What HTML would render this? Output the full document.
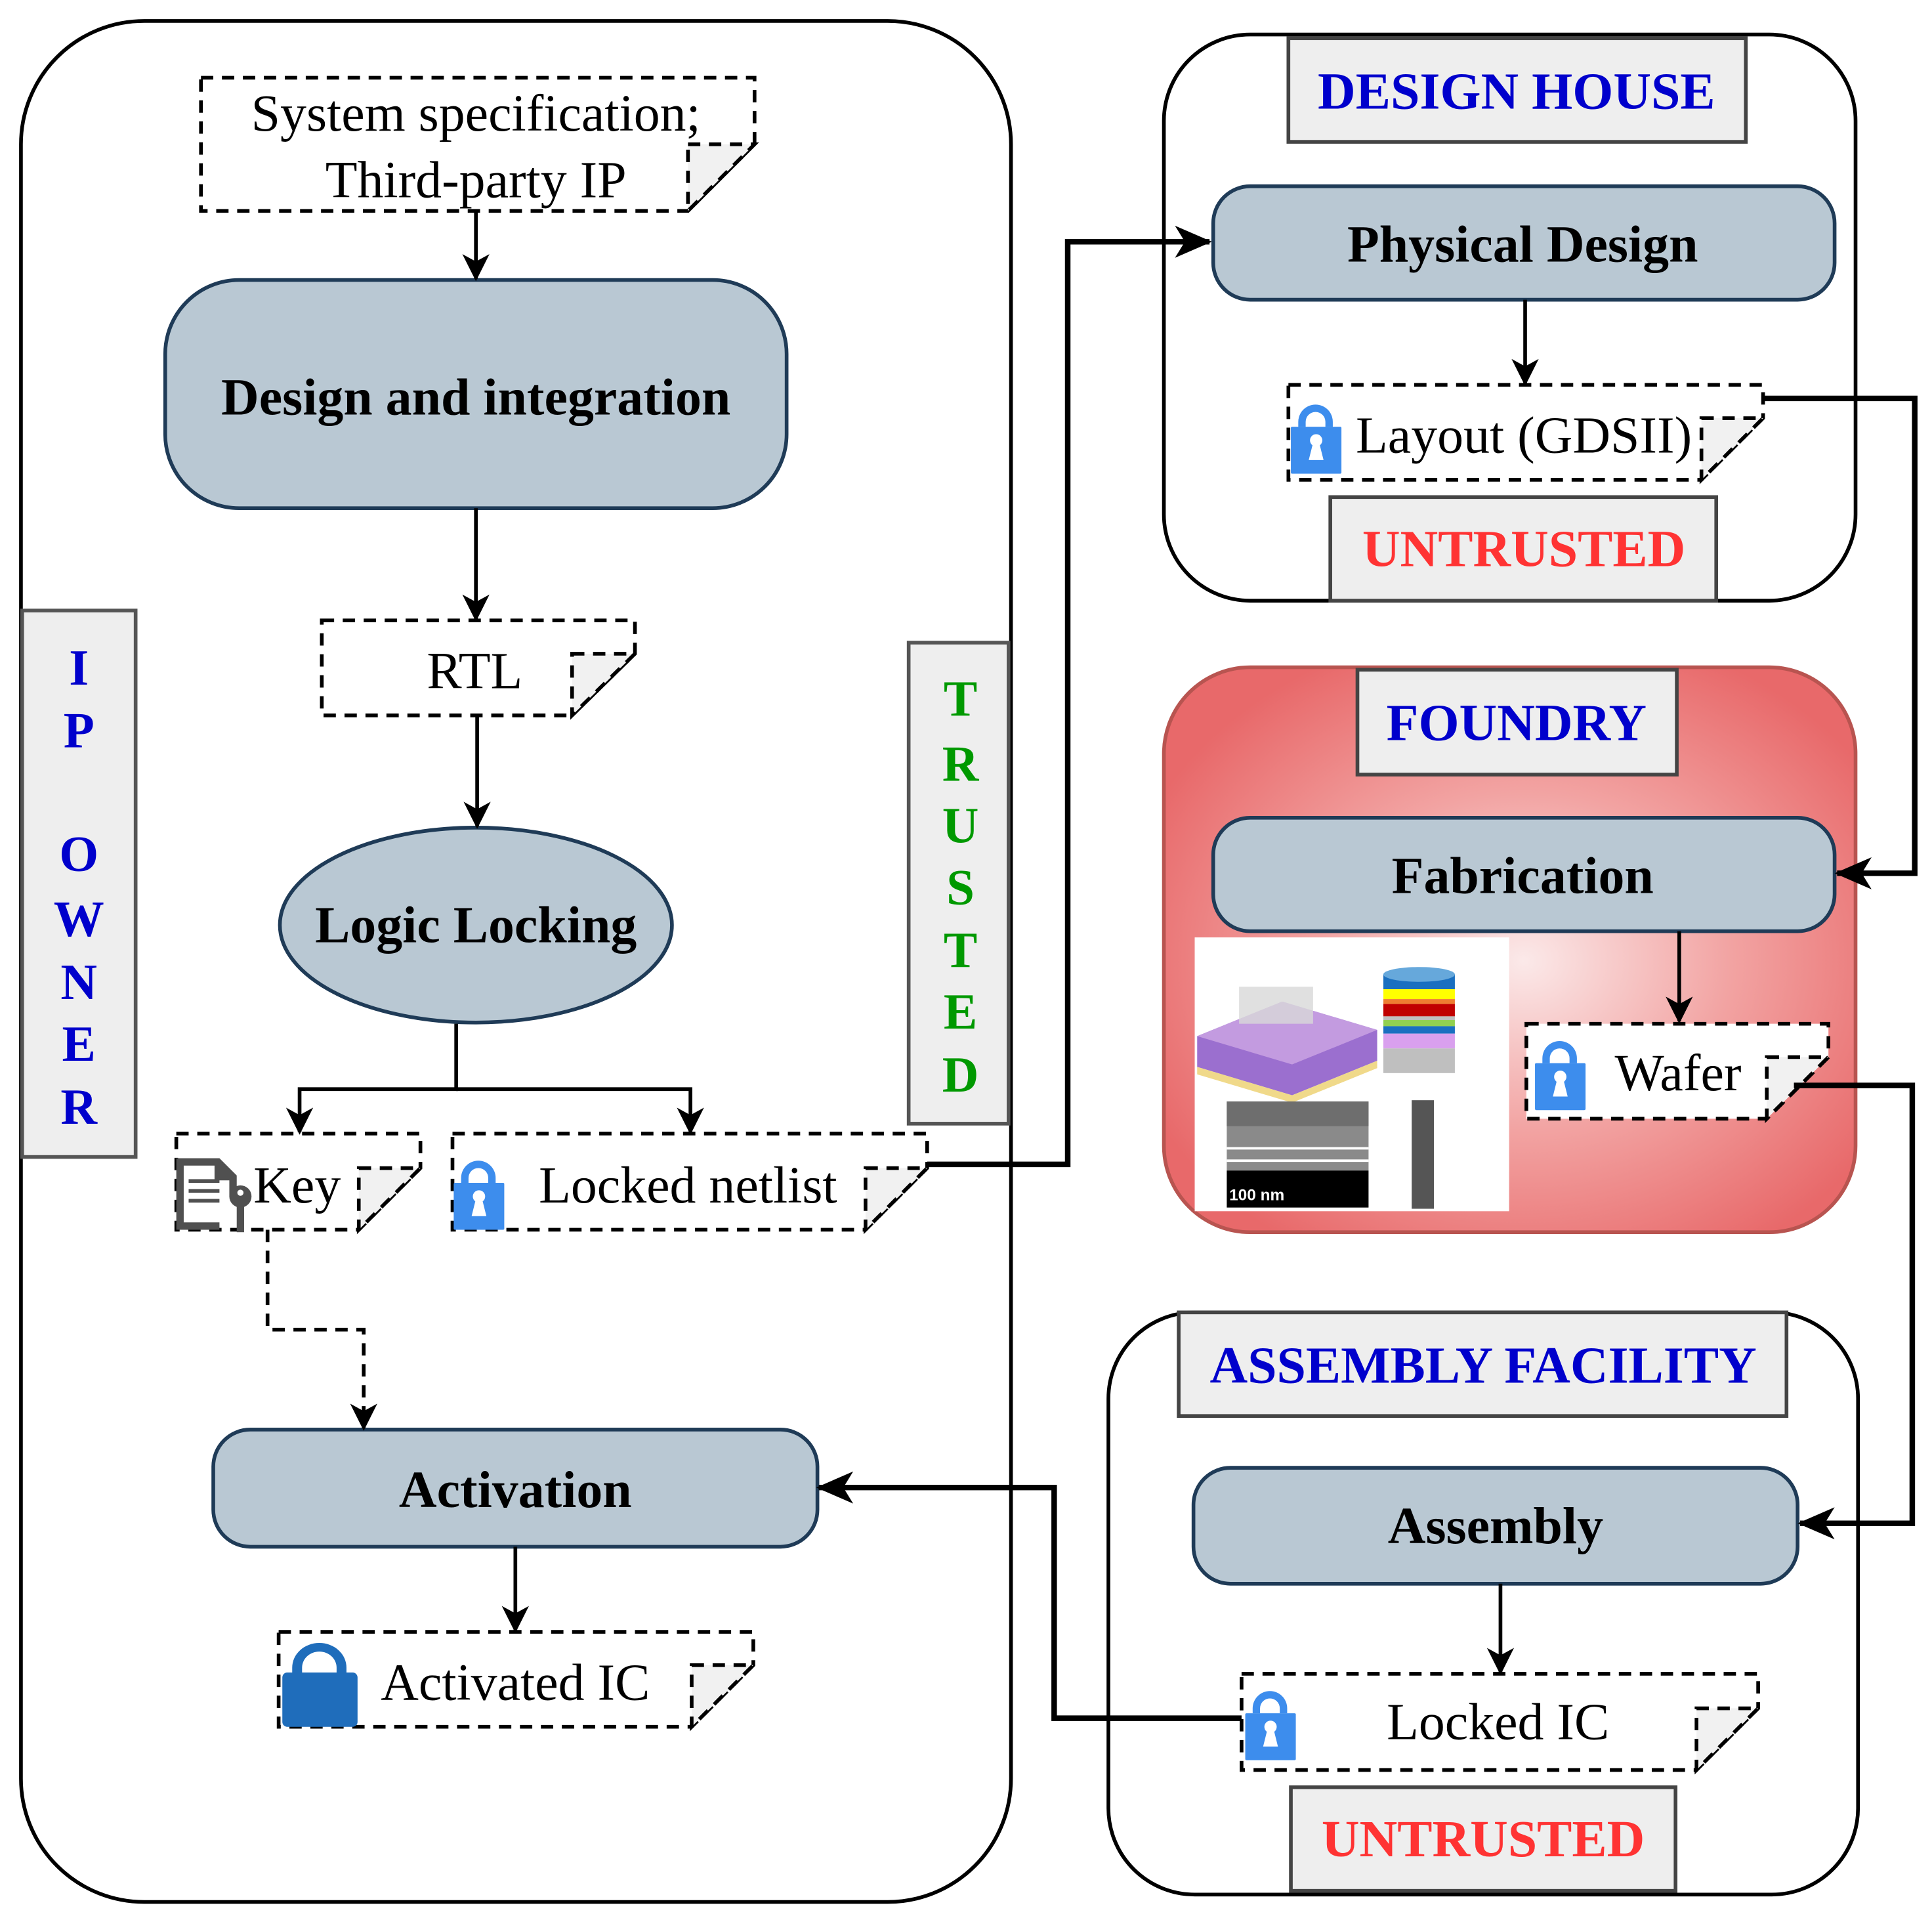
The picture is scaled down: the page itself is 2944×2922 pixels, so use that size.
<!DOCTYPE html>
<html><head><meta charset="utf-8"><style>
html,body{margin:0;padding:0;background:#fff;}
svg{display:block;}
text{font-family:"Liberation Serif",serif;}
</style></head><body>
<svg width="2944" height="2922" viewBox="0 0 1567 1555" preserveAspectRatio="none" xmlns="http://www.w3.org/2000/svg">
<defs>
<marker id="ar2" markerWidth="22" markerHeight="22" refX="20" refY="11" orient="auto" markerUnits="userSpaceOnUse"><path d="M0,0 L22,11 L0,22 L6,11 Z" fill="#000"/></marker>
<marker id="ar3" markerWidth="30" markerHeight="30" refX="28" refY="15" orient="auto" markerUnits="userSpaceOnUse"><path d="M0,2 L30,15 L0,28 L8,15 Z" fill="#000"/></marker>
<radialGradient id="fg" cx="0.52" cy="0.52" r="0.6">
<stop offset="0" stop-color="#fbe9e9"/><stop offset="0.5" stop-color="#f2a3a2"/><stop offset="1" stop-color="#e8696a"/></radialGradient>
<g id="lock">
<path d="M6,16 V12 A14,14 0 0 1 34,12 V16 H28 V12 A8,8 0 0 0 12,12 V16 Z" fill="#3d8ded"/>
<rect x="0" y="16" width="41" height="38" rx="1" fill="#3d8ded"/>
<circle cx="20.5" cy="27" r="5" fill="#fff"/><path d="M18,29 L14.5,43 H26.5 L23,29 Z" fill="#fff"/>
</g>
</defs>

<rect x="17" y="17" width="803" height="1525" rx="100" fill="#fff" stroke="#000" stroke-width="3"/>
<rect x="18" y="495" width="92" height="443" fill="#eeeeee" stroke="#555" stroke-width="3"/>
<g font-weight="bold" font-size="41" fill="#0000cc" text-anchor="middle">
<text x="64" y="555">I</text><text x="64" y="606">P</text><text x="64" y="706">O</text><text x="64" y="759">W</text><text x="64" y="810">N</text><text x="64" y="860">E</text><text x="64" y="911">R</text>
</g>
<rect x="737" y="521" width="81" height="390" fill="#eeeeee" stroke="#555" stroke-width="3"/>
<g font-weight="bold" font-size="41" fill="#009900" text-anchor="middle">
<text x="779" y="580">T</text><text x="779" y="633">R</text><text x="779" y="683">U</text><text x="779" y="733">S</text><text x="779" y="784">T</text><text x="779" y="834">E</text><text x="779" y="885">D</text>
</g>

<g stroke="#000" stroke-width="3" stroke-dasharray="10,7" fill="none">
<path d="M163,63 H612 V117 L558,171 H163 Z" fill="#fff"/>
<path d="M558,117 H612 L558,171 Z" fill="#f1f1f1"/>
<path d="M261,503 H515 V530 L464,580 H261 Z" fill="#fff"/>
<path d="M464,530 H515 L464,580 Z" fill="#f1f1f1"/>
<path d="M143,919 H341 V947 L291,997 H143 Z" fill="#fff"/>
<path d="M291,947 H341 L291,997 Z" fill="#f1f1f1"/>
<path d="M367,919 H752 V947 L702,997 H367 Z" fill="#fff"/>
<path d="M702,947 H752 L702,997 Z" fill="#f1f1f1"/>
<path d="M226,1323 H611 V1350 L561,1400 H226 Z" fill="#fff"/>
<path d="M561,1350 H611 L561,1400 Z" fill="#f1f1f1"/>
</g>
<text x="386" y="106" font-size="42.5" text-anchor="middle">System specification;</text>
<text x="386" y="160" font-size="42.5" text-anchor="middle">Third-party IP</text>
<text x="385" y="558" font-size="42.5" text-anchor="middle">RTL</text>
<text x="241" y="975" font-size="42.5" text-anchor="middle">Key</text>
<text x="558" y="975" font-size="42.5" text-anchor="middle">Locked netlist</text>
<text x="418" y="1378" font-size="42.5" text-anchor="middle">Activated IC</text>
<g fill="#505050">
<path d="M143,939 H178 L192,953 V970 H186 V957 H174 V945 H149 V991 H178 V997 H143 Z"/>
<rect x="153" y="956" width="25" height="3"/><rect x="153" y="964" width="25" height="3"/><rect x="153" y="972" width="25" height="3"/>
<circle cx="195" cy="970" r="9"/><rect x="192" y="975" width="6" height="24"/>
</g>
<circle cx="195" cy="967" r="2.5" fill="#fff"/>
<use href="#lock" x="368" y="943"/>
<g transform="translate(229,1332)">
<path d="M8,24 V20 A22,20 0 0 1 52,20 V24 H44 V20 A14,13 0 0 0 16,20 V24 Z" fill="#1f6dbb"/>
<rect x="0" y="24" width="61" height="44" rx="4" fill="#1f6dbb"/>
</g>

<g fill="#b9c8d3" stroke="#1f3b57" stroke-width="3">
<rect x="134" y="227" width="504" height="185" rx="60"/>
<ellipse cx="386" cy="750" rx="159" ry="79"/>
<rect x="173" y="1159" width="490" height="95" rx="30"/>
</g>
<g font-weight="bold" font-size="42.5" text-anchor="middle">
<text x="386" y="336">Design and integration</text>
<text x="386" y="764">Logic Locking</text>
<text x="418" y="1222">Activation</text>
</g>

<g stroke="#000" stroke-width="3" fill="none">
<path d="M386,171 V226" marker-end="url(#ar2)"/>
<path d="M386,412 V502" marker-end="url(#ar2)"/>
<path d="M387,580 V670" marker-end="url(#ar2)"/>
<path d="M370,830 V883 H243 V918" marker-end="url(#ar2)"/>
<path d="M370,883 H560 V918" marker-end="url(#ar2)"/>
<path d="M217,997 V1078 H295 V1158" stroke-dasharray="10,7" marker-end="url(#ar2)"/>
<path d="M418,1254 V1322" marker-end="url(#ar2)"/>
</g>

<rect x="944" y="28" width="561" height="459" rx="70" fill="#fff" stroke="#000" stroke-width="3"/>
<rect x="1045" y="31" width="371" height="84" fill="#eeeeee" stroke="#444" stroke-width="3"/>
<text x="1230" y="88" font-size="42.5" font-weight="bold" fill="#0000cc" text-anchor="middle">DESIGN HOUSE</text>
<rect x="984" y="151" width="504" height="92" rx="30" fill="#b9c8d3" stroke="#1f3b57" stroke-width="3"/>
<text x="1235" y="212" font-size="42.5" font-weight="bold" text-anchor="middle">Physical Design</text>
<g stroke="#000" stroke-width="3" stroke-dasharray="10,7" fill="none">
<path d="M1045,312 H1430 V339 L1380,389 H1045 Z" fill="#fff"/>
<path d="M1380,339 H1430 L1380,389 Z" fill="#f1f1f1"/>
</g>
<use href="#lock" x="1047" y="330"/>
<text x="1236" y="367" font-size="42.5" text-anchor="middle">Layout (GDSII)</text>
<rect x="1079" y="403" width="313" height="84" fill="#eeeeee" stroke="#444" stroke-width="3"/>
<text x="1236" y="459" font-size="42.5" font-weight="bold" fill="#ff3333" text-anchor="middle">UNTRUSTED</text>

<rect x="944" y="541" width="561" height="458" rx="70" fill="url(#fg)" stroke="#b85450" stroke-width="3"/>
<rect x="1101" y="543" width="259" height="85" fill="#eeeeee" stroke="#444" stroke-width="3"/>
<text x="1230" y="600" font-size="42.5" font-weight="bold" fill="#0000cc" text-anchor="middle">FOUNDRY</text>
<rect x="984" y="663" width="504" height="92" rx="30" fill="#b9c8d3" stroke="#1f3b57" stroke-width="3"/>
<text x="1235" y="724" font-size="42.5" font-weight="bold" text-anchor="middle">Fabrication</text>
<g>
<rect x="969" y="760" width="255" height="222" fill="#fff"/>
<path d="M971,840 L1040,812 L1117,835 L1117,860 L1048,888 L971,865 Z" fill="#9b6fcf"/>
<path d="M971,840 L1048,863 L1117,835 L1040,812 Z" fill="#c39be0"/>
<path d="M971,865 L1048,888 L1117,860 L1117,866 L1048,894 L971,871 Z" fill="#f0d98a"/>
<rect x="1005" y="800" width="60" height="30" fill="#d8d8d8" opacity="0.8"/>
<rect x="1122" y="790" width="58" height="12" fill="#1a6fc0"/>
<ellipse cx="1151" cy="790" rx="29" ry="6" fill="#66a8db"/>
<rect x="1122" y="802" width="58" height="8" fill="#ffff00"/>
<rect x="1122" y="810" width="58" height="4" fill="#ee7d31"/>
<rect x="1122" y="814" width="58" height="10" fill="#c00000"/>
<rect x="1122" y="824" width="58" height="3" fill="#bfbfbf"/>
<rect x="1122" y="827" width="58" height="5" fill="#92d050"/>
<rect x="1122" y="832" width="58" height="6" fill="#1a6fc0"/>
<rect x="1122" y="838" width="58" height="12" fill="#d9a0ee"/>
<rect x="1122" y="850" width="58" height="20" fill="#bfbfbf"/>
<rect x="995" y="893" width="115" height="56" fill="#8a8a8a"/>
<rect x="995" y="893" width="115" height="20" fill="#6e6e6e"/>
<rect x="995" y="930" width="115" height="2" fill="#fff"/><rect x="995" y="940" width="115" height="2" fill="#fff"/>
<rect x="995" y="949" width="115" height="30" fill="#000"/>
<text x="997" y="973" font-size="13" font-weight="bold" fill="#fff" style="font-family:'Liberation Sans',sans-serif">100 nm</text>
<rect x="1145" y="892" width="18" height="88" fill="#555"/>
</g>
<g stroke="#000" stroke-width="3" stroke-dasharray="10,7" fill="none">
<path d="M1238,830 H1483 V857 L1433,907 H1238 Z" fill="#fff"/>
<path d="M1433,857 H1483 L1433,907 Z" fill="#f1f1f1"/>
</g>
<use href="#lock" x="1245" y="846"/>
<text x="1361" y="884" font-size="42.5" text-anchor="middle">Wafer</text>

<rect x="899" y="1064" width="608" height="472" rx="70" fill="#fff" stroke="#000" stroke-width="3"/>
<rect x="956" y="1064" width="493" height="84" fill="#eeeeee" stroke="#444" stroke-width="3"/>
<text x="1203" y="1121" font-size="42.5" font-weight="bold" fill="#0000cc" text-anchor="middle">ASSEMBLY FACILITY</text>
<rect x="968" y="1190" width="490" height="94" rx="30" fill="#b9c8d3" stroke="#1f3b57" stroke-width="3"/>
<text x="1213" y="1251" font-size="42.5" font-weight="bold" text-anchor="middle">Assembly</text>
<g stroke="#000" stroke-width="3" stroke-dasharray="10,7" fill="none">
<path d="M1007,1357 H1426 V1385 L1376,1435 H1007 Z" fill="#fff"/>
<path d="M1376,1385 H1426 L1376,1435 Z" fill="#f1f1f1"/>
</g>
<use href="#lock" x="1010" y="1373"/>
<text x="1215" y="1410" font-size="42.5" text-anchor="middle">Locked IC</text>
<rect x="1047" y="1449" width="312" height="84" fill="#eeeeee" stroke="#444" stroke-width="3"/>
<text x="1203" y="1505" font-size="42.5" font-weight="bold" fill="#ff3333" text-anchor="middle">UNTRUSTED</text>

<g stroke="#000" stroke-width="3" fill="none">
<path d="M1237,243 V311" marker-end="url(#ar2)"/>
<path d="M1362,755 V828" marker-end="url(#ar2)"/>
<path d="M1217,1284 V1356" marker-end="url(#ar2)"/>
</g>
<g stroke="#000" stroke-width="4.5" fill="none">
<path d="M752,944 H866 V196 H981" marker-end="url(#ar3)"/>
<path d="M1430,323 H1553 V708 H1490" marker-end="url(#ar3)"/>
<path d="M1455,880 H1551 V1235 H1460" marker-end="url(#ar3)"/>
<path d="M1007,1393 H855 V1206 H664" marker-end="url(#ar3)"/>
</g>
</svg>
</body></html>
